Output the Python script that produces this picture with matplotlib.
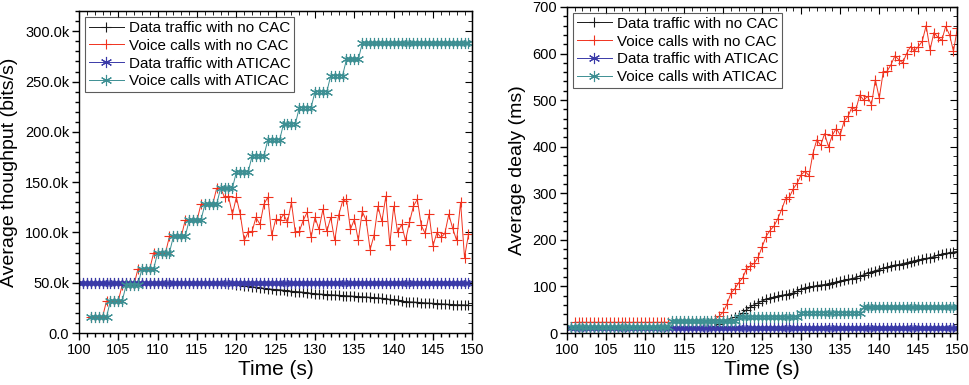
import numpy as np
import matplotlib
matplotlib.use("Agg")
import matplotlib.pyplot as plt
from matplotlib.ticker import MultipleLocator, FuncFormatter

plt.rcParams['font.family'] = ['Liberation Sans', 'DejaVu Sans']

labels = ["Data traffic with no CAC", "Voice calls with no CAC",
          "Data traffic with ATICAC", "Voice calls with ATICAC"]
colors = ["#1a1a1a", "#f0321e", "#3a3aa8", "#3d8f93"]

# ---- throughput (kbit/s), sampled every 0.5 s ----
t_thr = np.arange(100.0, 150.0, 0.5)          # 100 .. 149.5
thr_data_nocac = ([50] * 37 +
                  [49.5, 49, 48.5, 48, 47.5, 47, 46.5, 46, 45.5, 45, 44.5, 44,
                   43.5, 43.2, 43, 42.5, 42, 41.5, 41.2, 41, 40.5, 40, 39.5, 39,
                   38.8, 38.5, 38.2, 38, 37.8, 37.5, 37.2, 37, 36.8, 36.5, 36.2,
                   36, 35.8, 35.5, 35.2, 35, 34.5, 34, 33.5, 33.2, 33, 31.5, 31.2,
                   31, 30.8, 30.5, 30.2, 30, 29.8, 29.5, 29.3, 29, 28.8, 28.5, 28.3,
                   28.1, 28, 27.9, 27.8])
thr_data_aticac = [50] * 100

t_voice = np.arange(101.5, 150.0, 0.5)        # 101.5 .. 149.5
thr_voice_aticac = ([16] * 5 + [32] * 4 + [48] * 4 + [64] * 4 + [80] * 4 +
                    [96] * 4 + [112] * 4 + [128] * 4 + [144] * 4 + [160] * 4 +
                    [176] * 4 + [192] * 4 + [208] * 4 + [224] * 4 + [240] * 4 +
                    [256] * 4 + [272] * 4 + [288] * 28)
thr_voice_nocac = ([16] * 4 + [32] * 4 + [48] * 4 + [64] * 4 + [80] * 4 +
                   [96] * 4 + [112] * 4 + [128] * 4 + [144] * 1 +
                   [144, 135, 136, 118, 135, 118, 92, 100, 101, 115, 108, 128,
                    135, 97, 113, 112, 118, 110, 130, 100, 101, 112, 120, 95, 115,
                    103, 123, 101, 115, 92, 117, 131, 133, 103, 113, 92, 121, 112,
                    83, 97, 126, 111, 136, 88, 126, 100, 108, 92, 110, 126, 133,
                    107, 99, 118, 87, 100, 95, 99, 118, 104, 92, 130, 75, 98])

# ---- delay (ms), sampled every 0.5 s ----
t_dly = np.arange(100.5, 150.5, 0.5)          # 100.5 .. 150
dly_data_nocac = ([11] * 36 +
                  [12, 15, 20, 25, 29, 31, 34, 38, 43, 50, 56, 61, 65, 69, 72, 75,
                   77, 79, 81, 82, 84, 86, 90, 95, 97, 99, 100, 102, 103, 104, 106,
                   108, 109, 111, 113, 115, 117, 119, 122, 125, 128, 131, 134, 136,
                   139, 141, 144, 146, 147, 149, 151, 153, 155, 157, 158, 160, 162,
                   164, 167, 169, 171, 172, 174, 175])
dly_data_aticac = [10] * 100
dly_voice_aticac = [13] * 26 + [25] * 17 + [34] * 16 + [44] * 16 + [55] * 25

t_dly_voice = np.arange(101.0, 150.5, 0.5)    # 101 .. 150
dly_voice_nocac = ([23] * 36 +
                   [30, 36, 45, 62, 85, 95, 108, 118, 138, 144, 150, 163, 185, 207,
                    220, 229, 245, 265, 288, 292, 310, 322, 340, 347, 338, 385, 415,
                    403, 428, 400, 425, 439, 425, 455, 465, 485, 479, 511, 500, 508,
                    490, 544, 504, 560, 562, 576, 595, 587, 580, 600, 615, 605, 615,
                    626, 660, 608, 645, 635, 628, 658, 640, 605, 655])

fig = plt.figure(figsize=(9.69, 3.85), dpi=100)
ax1 = fig.add_axes([0.0815, 0.135, 0.406, 0.836])
ax2 = fig.add_axes([0.585, 0.135, 0.403, 0.847])

plus_kw = dict(marker='+', markersize=7, markeredgewidth=0.8, linewidth=0.7)
star_kw = dict(marker=(6, 2, 0), markersize=8, markeredgewidth=0.8, linewidth=0.7)

ax1.plot(t_thr, np.array(thr_data_nocac) * 1000, color=colors[0], label=labels[0], **plus_kw)
ax1.plot(t_voice, np.array(thr_voice_nocac) * 1000, color=colors[1], label=labels[1], **plus_kw)
ax1.plot(t_thr, np.array(thr_data_aticac) * 1000, color=colors[2], label=labels[2], **star_kw)
ax1.plot(t_voice, np.array(thr_voice_aticac) * 1000, color=colors[3], label=labels[3], **star_kw)

ax2.plot(t_dly, dly_data_nocac, color=colors[0], label=labels[0], **plus_kw)
ax2.plot(t_dly_voice, dly_voice_nocac, color=colors[1], label=labels[1], **plus_kw)
ax2.plot(t_dly, dly_data_aticac, color=colors[2], label=labels[2], **star_kw)
ax2.plot(t_dly, dly_voice_aticac, color=colors[3], label=labels[3], **star_kw)


def kfmt(v, pos):
    if v == 0:
        return "0.0"
    return "%.1fk" % (v / 1000)


ax1.set_ylim(0, 320000)
ax1.yaxis.set_major_locator(MultipleLocator(50000))
ax1.yaxis.set_minor_locator(MultipleLocator(10000))
ax1.yaxis.set_major_formatter(FuncFormatter(kfmt))
ax1.set_ylabel("Average thoughput (bits/s)", fontsize=14, labelpad=5)

ax2.set_ylim(0, 700)
ax2.yaxis.set_major_locator(MultipleLocator(100))
ax2.yaxis.set_minor_locator(MultipleLocator(20))
ax2.set_ylabel("Average dealy (ms)", fontsize=14, labelpad=5)

for ax in (ax1, ax2):
    ax.set_xlim(100, 150)
    ax.xaxis.set_major_locator(MultipleLocator(5))
    ax.xaxis.set_minor_locator(MultipleLocator(1))
    ax.set_xlabel("Time (s)", fontsize=15, labelpad=2)
    ax.tick_params(which='both', direction='out', labelsize=10.5, width=1.0, pad=2)
    ax.tick_params(which='major', length=5)
    ax.tick_params(which='minor', length=3)
    for s in ax.spines.values():
        s.set_linewidth(1.0)
    # mirrored ticks pointing inwards on top and right
    top = ax.secondary_xaxis('top')
    top.xaxis.set_major_locator(MultipleLocator(5))
    top.xaxis.set_minor_locator(MultipleLocator(1))
    top.tick_params(which='both', direction='in', labeltop=False)
    top.tick_params(which='major', length=5)
    top.tick_params(which='minor', length=3)
    right = ax.secondary_yaxis('right')
    right.yaxis.set_major_locator(ax.yaxis.get_major_locator())
    right.yaxis.set_minor_locator(ax.yaxis.get_minor_locator())
    right.tick_params(which='both', direction='in', labelright=False)
    right.tick_params(which='major', length=5)
    right.tick_params(which='minor', length=3)
    leg = ax.legend(loc='upper left', fontsize=10.9, frameon=True, fancybox=False,
                    handlelength=2.3, handletextpad=0.35, borderpad=0.25,
                    labelspacing=0.25, borderaxespad=0.4)
    leg.get_frame().set_edgecolor('#333333')
    leg.get_frame().set_linewidth(0.8)

fig.savefig("out.png", dpi=100)
